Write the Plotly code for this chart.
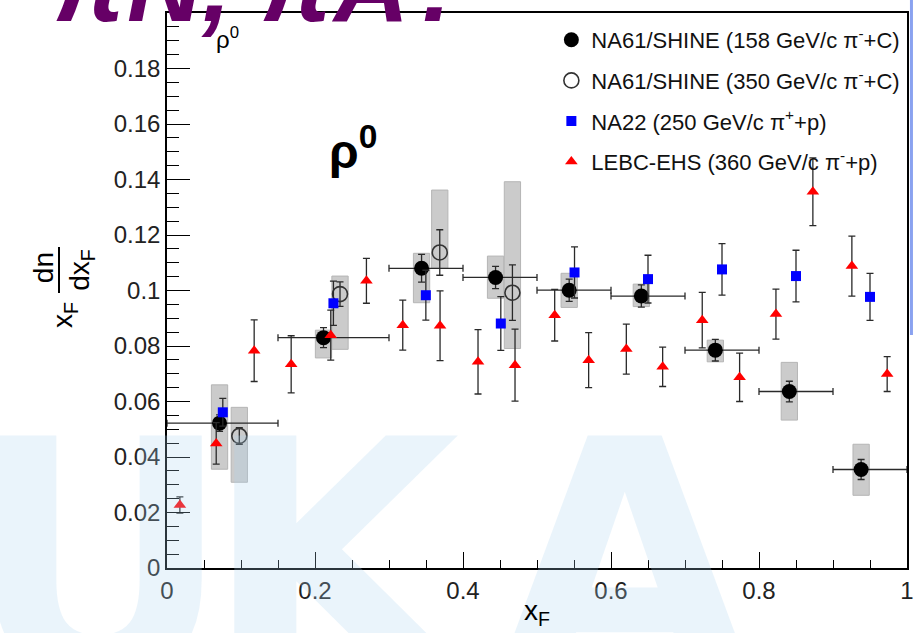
import plotly.graph_objects as go

# ---------------- data ----------------
na61_158_x = [0.071, 0.2115, 0.344, 0.444, 0.5435, 0.641, 0.741, 0.841, 0.938]
na61_158_y = [0.0522, 0.0830, 0.1080, 0.1047, 0.1001, 0.0980, 0.0785, 0.0636, 0.0355]
na61_158_xlo = [0.0, 0.15, 0.3, 0.4, 0.5, 0.6, 0.7, 0.8, 0.9]
na61_158_xhi = [0.15, 0.3, 0.4, 0.5, 0.6, 0.7, 0.8, 0.9, 1.0]
na61_158_stat = [0.003, 0.0036, 0.005, 0.004, 0.004, 0.004, 0.0039, 0.0037, 0.0036]
na61_158_syslo = [0.0356, 0.0757, 0.0956, 0.0972, 0.0939, 0.0942, 0.0743, 0.0533, 0.0262]
na61_158_syshi = [0.0660, 0.0857, 0.1134, 0.1124, 0.1062, 0.1023, 0.0821, 0.0741, 0.0446]

na61_350_x = [0.0977, 0.2338, 0.3686, 0.4668]
na61_350_y = [0.0476, 0.0987, 0.1137, 0.0992]
na61_350_stat = [0.003, 0.0044, 0.0082, 0.0100]
na61_350_syslo = [0.0309, 0.0788, 0.1080, 0.0791]
na61_350_syshi = [0.0579, 0.1052, 0.1362, 0.1392]

na22_x = [0.0754, 0.2249, 0.3498, 0.4511, 0.5507, 0.650, 0.750, 0.850, 0.950]
na22_y = [0.0561, 0.0954, 0.0983, 0.0881, 0.1065, 0.1041, 0.1076, 0.1052, 0.0977]
na22_err = [0.005, 0.008, 0.009, 0.0097, 0.0092, 0.0086, 0.0093, 0.0093, 0.0085]

lebc_x = [0.0174, 0.0665, 0.1178, 0.1678, 0.2213, 0.2695, 0.3186, 0.369, 0.4203, 0.4703,
          0.5239, 0.5698, 0.6207, 0.6698, 0.7233, 0.7738, 0.8229, 0.8728, 0.9255, 0.9732]
lebc_y = [0.0227, 0.0449, 0.0783, 0.0734, 0.0839, 0.1035, 0.0875, 0.0873, 0.0743, 0.0731,
          0.0911, 0.0749, 0.0789, 0.0725, 0.0893, 0.0687, 0.0915, 0.1356, 0.1088, 0.0699]
lebc_err = [0.0029, 0.0075, 0.0111, 0.0103, 0.009, 0.0081, 0.009, 0.0126, 0.0116, 0.013,
            0.0093, 0.0099, 0.009, 0.0071, 0.010, 0.0087, 0.009, 0.0122, 0.0108, 0.0063]

x_tickvals = [0, 0.2, 0.4, 0.6, 0.8, 1.0]
x_ticktext = ["0", "0.2", "0.4", "0.6", "0.8", "1"]
y_tickvals = [0, 0.02, 0.04, 0.06, 0.08, 0.1, 0.12, 0.14, 0.16, 0.18, 0.2]
y_ticktext = ["0", "0.02", "0.04", "0.06", "0.08", "0.1", "0.12", "0.14", "0.16", "0.18", "0.2"]

names = ["NA61/SHINE (158 GeV/c π<sup>-</sup>+C)",
         "NA61/SHINE (350 GeV/c π<sup>-</sup>+C)",
         "NA22 (250 GeV/c π<sup>+</sup>+p)",
         "LEBC-EHS (360 GeV/c π<sup>-</sup>+p)"]

FONT = "Liberation Sans, Arial, sans-serif"
BOX_HW = 0.011
ERRC = "#2a2a2a"

fig = go.Figure()

# systematic boxes
shapes = []
for xs, lo, hi in [(na61_158_x, na61_158_syslo, na61_158_syshi),
                   (na61_350_x, na61_350_syslo, na61_350_syshi)]:
    for xv, l, h in zip(xs, lo, hi):
        shapes.append(dict(type="rect", xref="x", yref="y", x0=xv - BOX_HW, x1=xv + BOX_HW,
                           y0=l, y1=h, fillcolor="#cbcbcb",
                           line=dict(color="#b5b5b5", width=1), layer="below"))

fig.add_trace(go.Scatter(
    x=na61_158_x, y=na61_158_y, mode="markers", name=names[0], legendgroup="a",
    marker=dict(symbol="circle", size=15, color="black"),
    error_y=dict(type="data", array=na61_158_stat, color=ERRC, thickness=1.3, width=3.5),
    error_x=dict(type="data", array=[h - x for h, x in zip(na61_158_xhi, na61_158_x)],
                 arrayminus=[x - l for l, x in zip(na61_158_xlo, na61_158_x)],
                 color=ERRC, thickness=1.3, width=3.5)))

fig.add_trace(go.Scatter(
    x=na61_350_x, y=na61_350_y, mode="markers", name=names[1], legendgroup="b",
    marker=dict(symbol="circle-open", size=15, color="#333333", line=dict(width=1.6, color="#333333")),
    error_y=dict(type="data", array=na61_350_stat, color=ERRC, thickness=1.3, width=3.5)))

fig.add_trace(go.Scatter(
    x=na22_x, y=na22_y, mode="markers", name=names[2], legendgroup="c",
    marker=dict(symbol="square", size=10, color="#0000ff"),
    error_y=dict(type="data", array=na22_err, color=ERRC, thickness=1.3, width=3.5)))

fig.add_trace(go.Scatter(
    x=lebc_x, y=lebc_y, mode="markers", name=names[3], legendgroup="d",
    marker=dict(symbol="triangle-up", size=11, color="#ff0000"),
    error_y=dict(type="data", array=lebc_err, color=ERRC, thickness=1.3, width=3.5)))

L, R, T, B = 167, 6, 13, 65
W, H = 920, 633
PW, PH = W - L - R, H - T - B


def px2paper(px, py):
    return (px - L) / PW, (H - B - py) / PH


annotations = []
# watermark letters (background decoration)
for letter, cx in [("U", 97), ("K", 340), ("A", 630)]:
    ax_, ay_ = px2paper(cx, 368)
    annotations.append(dict(text="<b>" + letter + "</b>", x=ax_, y=ay_, xref="paper", yref="paper",
                            xanchor="center", yanchor="top", showarrow=False,
                            font=dict(family="DejaVu Sans, sans-serif", size=330,
                                      color="rgba(170,210,238,0.25)")))
# purple slide title (clipped at top)
ax_, ay_ = px2paper(50, 45)
annotations.append(dict(text="<b><i>πN, πA?</i></b>", x=ax_, y=ay_, xref="paper", yref="paper",
                        xanchor="left", yanchor="bottom", showarrow=False,
                        font=dict(family=FONT, size=104, color="#660066")))
# rho labels
ax_, ay_ = px2paper(228, 38)
annotations.append(dict(text="ρ<sup>0</sup>", x=ax_, y=ay_, xref="paper", yref="paper",
                        xanchor="center", yanchor="middle", showarrow=False,
                        font=dict(family=FONT, size=24, color="black")))
ax_, ay_ = px2paper(355, 148)
annotations.append(dict(text="<b>ρ<sup>0</sup></b>", x=ax_, y=ay_, xref="paper", yref="paper",
                        xanchor="center", yanchor="middle", showarrow=False,
                        font=dict(family=FONT, size=48, color="black")))
# y title pieces
for txt, cx, cy in [("dn", 42, 268), ("dx<sub>F</sub>", 80, 270), ("x<sub>F</sub>", 63, 315)]:
    ax_, ay_ = px2paper(cx, cy)
    annotations.append(dict(text=txt, x=ax_, y=ay_, xref="paper", yref="paper", textangle=-90,
                            xanchor="center", yanchor="middle", showarrow=False,
                            font=dict(family=FONT, size=28, color="black")))
# x title
ax_, ay_ = px2paper(540, 612)
annotations.append(dict(text="x<sub>F</sub>", x=ax_, y=ay_, xref="paper", yref="paper",
                        xanchor="center", yanchor="middle", showarrow=False,
                        font=dict(family=FONT, size=28, color="black")))

# fraction bar
fx, fy0 = px2paper(58, 247)
_, fy1 = px2paper(58, 293)
shapes.append(dict(type="line", xref="paper", yref="paper", x0=fx, x1=fx, y0=fy0, y1=fy1,
                   line=dict(color="black", width=2)))
# blue slide edge line
bx, by0 = px2paper(918.5, 0)
_, by1 = px2paper(918.5, 335)
shapes.append(dict(type="line", xref="paper", yref="paper", x0=bx, x1=bx, y0=by0, y1=by1,
                   line=dict(color="#8aa2f0", width=3)))

lx, ly = px2paper(555, 19)
fig.update_layout(
    width=W, height=H,
    margin=dict(l=L, r=R, t=T, b=B),
    paper_bgcolor="white", plot_bgcolor="white",
    font=dict(family=FONT, color="black"),
    shapes=shapes, annotations=annotations,
    showlegend=True,
    legend=dict(x=lx, y=ly, xanchor="left", yanchor="top", bgcolor="rgba(0,0,0,0)",
                font=dict(family=FONT, size=22, color="#111"), tracegroupgap=9,
                itemsizing="trace"),
    xaxis=dict(range=[0, 1], tickmode="array", tickvals=x_tickvals, ticktext=x_ticktext,
               ticks="inside", ticklen=16, tickwidth=1.3, tickcolor="black",
               minor=dict(tickmode="linear", tick0=0, dtick=0.05, ticks="inside", ticklen=8,
                          tickwidth=1.3, tickcolor="black"),
               showline=True, linecolor="black", linewidth=1.5, mirror=True,
               showgrid=False, zeroline=False, tickfont=dict(family=FONT, size=24, color="#222")),
    yaxis=dict(range=[0, 0.2], tickmode="array", tickvals=y_tickvals, ticktext=y_ticktext,
               ticks="inside", ticklen=23, tickwidth=1.3, tickcolor="black",
               minor=dict(tickmode="linear", tick0=0, dtick=0.005, ticks="inside", ticklen=12,
                          tickwidth=1.3, tickcolor="black"),
               showline=True, linecolor="black", linewidth=1.5, mirror=True,
               showgrid=False, zeroline=False, tickfont=dict(family=FONT, size=24, color="#222")),
)

fig.write_html("out.html")
